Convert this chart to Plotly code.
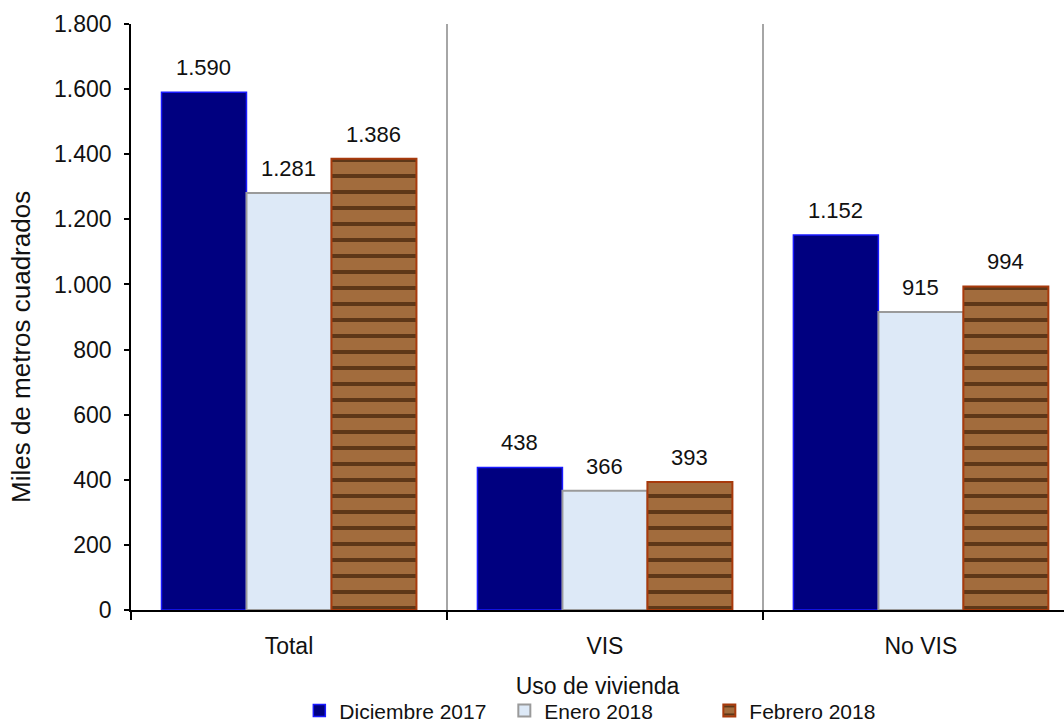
import plotly.graph_objects as go

categories = ["Total", "VIS", "No VIS"]
series_names = ["Diciembre 2017", "Enero 2018", "Febrero 2018"]
dic_2017 = [1590, 438, 1152]
ene_2018 = [1281, 366, 915]
feb_2018 = [1386, 393, 994]
y_ticks = [0, 200, 400, 600, 800, 1000, 1200, 1400, 1600, 1800]

FONT = "Liberation Sans, Arial, sans-serif"

W, H = 1064, 725
ML, MT, MB = 131, 24, 115
X_RANGE = [-0.5, 2.453]
BARGAP = 0.193

fig = go.Figure()
fig.add_trace(go.Bar(
    name=series_names[0], x=categories, y=dic_2017,
    marker=dict(color="#000080", line=dict(color="#1a1aff", width=1.5)),
))
fig.add_trace(go.Bar(
    name=series_names[1], x=categories, y=ene_2018,
    marker=dict(color="#dde9f7", line=dict(color="#9a9a9a", width=2)),
))
fig.add_trace(go.Bar(
    name=series_names[2], x=categories, y=feb_2018,
    marker=dict(color="#9a5f2e", line=dict(color="#a83a0c", width=2),
                pattern=dict(shape="-", bgcolor="#a26c3d", fgcolor="#5e3718",
                             size=16, solidity=0.25, fillmode="replace")),
))

# value labels above bars (offset horizontally by bar slot width)
plot_w = W - ML
cat_px = plot_w / (X_RANGE[1] - X_RANGE[0])
bar_px = cat_px * (1 - BARGAP) / 3
annotations = []
for i, vals in enumerate([dic_2017, ene_2018, feb_2018]):
    for cat, v in zip(categories, vals):
        annotations.append(dict(
            x=cat, y=v, xref="x", yref="y", text=f"{v:,}".replace(",", "."),
            showarrow=False, xanchor="center", yanchor="bottom",
            xshift=(i - 1) * bar_px, yshift=10,
            font=dict(size=22, family=FONT, color="#111111"),
        ))
annotations.append(dict(
    text="Miles de metros cuadrados", textangle=-90,
    xref="paper", yref="paper", x=(21 - ML) / plot_w, y=(H - MB - 347) / (H - MB - MT),
    xanchor="center", yanchor="middle", showarrow=False,
    font=dict(size=26, family=FONT, color="#111111"),
))

fig.update_layout(
    width=W, height=H,
    margin=dict(l=ML, r=0, t=MT, b=MB, autoexpand=False),
    paper_bgcolor="white", plot_bgcolor="white",
    separators=",.",
    barmode="group", bargap=BARGAP, bargroupgap=0,
    font=dict(family=FONT, size=22, color="#111111"),
    showlegend=True,
    legend=dict(orientation="h", x=0.51, xanchor="center", y=-0.137, yanchor="top",
                font=dict(size=21, family=FONT), itemwidth=30, tracegroupgap=0,
                entrywidth=160, entrywidthmode="pixels",
                bgcolor="rgba(0,0,0,0)"),
    xaxis=dict(
        type="category", range=X_RANGE,
        tickson="boundaries", ticks="outside", ticklen=8, tickcolor="black", tickwidth=1.5,
        showline=True, linecolor="black", linewidth=1.5,
        showgrid=True, gridcolor="#a6a6a6", gridwidth=1.5,
        tickfont=dict(size=23, family=FONT), ticklabelstandoff=15,
        title=dict(text="Uso de vivienda", font=dict(size=23, family=FONT), standoff=20),
        automargin=False,
    ),
    yaxis=dict(
        range=[0, 1800], tickvals=y_ticks, tickformat=",d",
        ticks="outside", ticklen=5, tickcolor="black", tickwidth=1.5,
        showline=True, linecolor="black", linewidth=1.5,
        showgrid=False, zeroline=False,
        tickfont=dict(size=23, family=FONT), ticklabelstandoff=8,
        automargin=False,
    ),
    annotations=annotations,
)

fig.write_html("out.html")
